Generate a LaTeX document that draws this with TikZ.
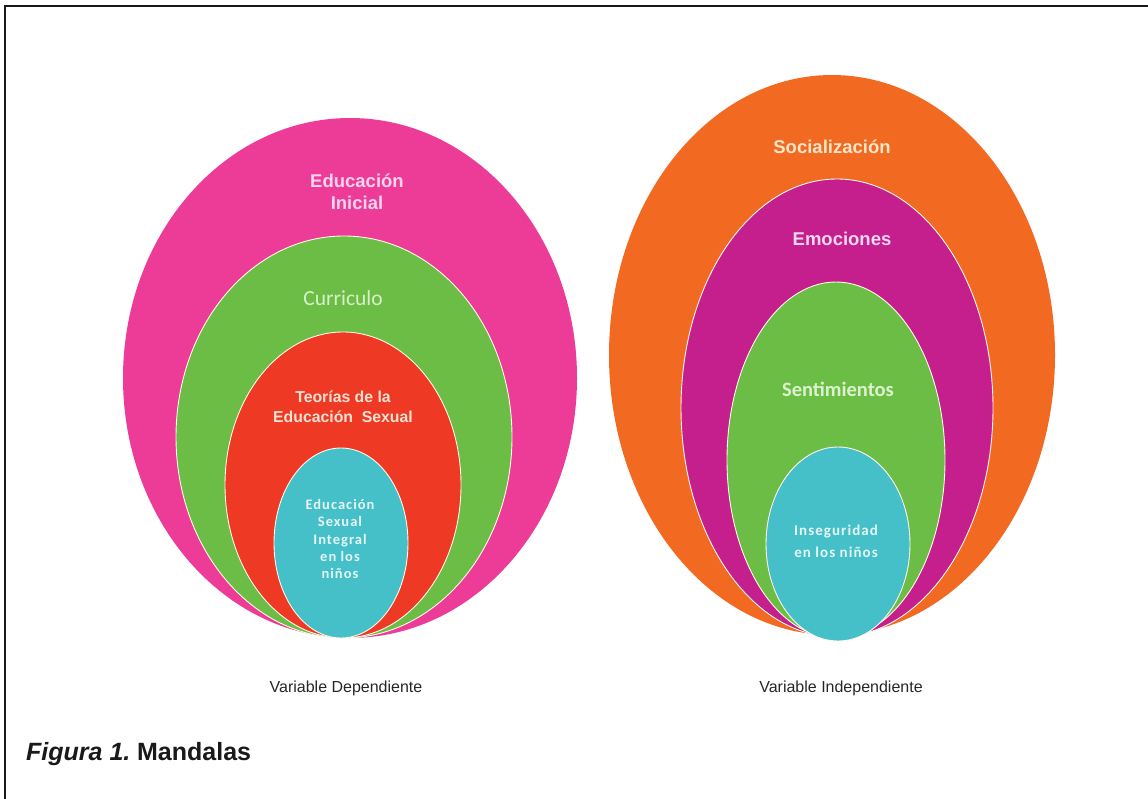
\documentclass[tikz,border=0pt]{standalone}
\usepackage{fontspec}
\setmainfont{Liberation Sans}
\newfontfamily\carlito{Carlito}
\newfontfamily\carlitows[LetterSpace=7]{Carlito}
\definecolor{cpink}{HTML}{EC3C98}
\definecolor{cgreen}{HTML}{6CBD45}
\definecolor{cred}{HTML}{EE3A25}
\definecolor{ccyan}{HTML}{45C0C9}
\definecolor{corange}{HTML}{F26A22}
\definecolor{cpurple}{HTML}{C41F8D}
\definecolor{tpink}{HTML}{FAD4EC}
\definecolor{tgreen}{HTML}{D8F0C8}
\definecolor{tred}{HTML}{F9E2D2}
\definecolor{tcyan}{HTML}{E6F6F6}
\definecolor{torange}{HTML}{FDE6C8}
\definecolor{tpurple}{HTML}{F4D8F0}
\definecolor{rim}{HTML}{FFF8E8}
\tikzset{
  rimmed/.style={draw=rim, line width=0.9pt},
  bigtxt/.style={font=\bfseries\fontsize{18.5}{21.5}\selectfont, align=center, inner sep=0pt},
  smalltxt/.style={font=\carlitows\bfseries\fontsize{14.5}{17.3}\selectfont, align=center, inner sep=0pt},
  vartxt/.style={font=\fontsize{16}{18}\selectfont, text=black!85, inner sep=0pt}
}
\begin{document}
\begin{tikzpicture}[x=1pt,y=-1pt]
\useasboundingbox (0,0) rectangle (1148,799);
% frame
\draw[line width=2.4pt, black!90] (5,799) -- (5,6) -- (1148,6);
% left mandala
\fill[cpink] (350,378) ellipse [x radius=227pt, y radius=260pt];
\filldraw[cgreen, rimmed] (344,437) ellipse [x radius=168pt, y radius=201pt];
\filldraw[cred, rimmed] (343,485) ellipse [x radius=118pt, y radius=153pt];
\filldraw[ccyan, rimmed] (341,543) ellipse [x radius=67pt, y radius=95pt];
% right mandala
\fill[corange] (832,355) ellipse [x radius=223pt, y radius=280pt];
\filldraw[cpurple, rimmed] (837,408) ellipse [x radius=156pt, y radius=229pt];
\filldraw[cgreen, rimmed] (836,460) ellipse [x radius=109pt, y radius=178pt];
\filldraw[ccyan, rimmed] (838,544) ellipse [x radius=72pt, y radius=97pt];
% left texts
\node[bigtxt, text=tpink] (ei) at (357,192) {Educación\\Inicial};
\node[font=\carlito\fontsize{21.5}{24}\selectfont, text=tgreen, inner sep=0pt] (cu) at (343,298) {Curriculo};
\node[bigtxt, text=tred, font=\bfseries\fontsize{15.8}{19.5}\selectfont] (te) at (343,407) {Teorías de la\\Educación\ \ Sexual};
\node[smalltxt, text=tcyan] (es) at (340,539) {Educación\\Sexual\\Integral\\en los\\niños};
% right texts
\node[bigtxt, text=torange] (so) at (832,147) {Socialización};
\node[bigtxt, text=tpurple] (em) at (842,239) {Emociones};
\node[font=\carlito\bfseries\fontsize{20.5}{23}\selectfont, text=tgreen!90!white, inner sep=0pt] (se) at (838,389) {Sentimientos};
\node[text=tcyan, align=center, inner sep=0pt, font=\carlitows\bfseries\fontsize{15}{22}\selectfont] (in) at (836,541) {Inseguridad\\en los niños};
% variable labels
\node[vartxt] (vd) at (346,688) {Variable Dependiente};
\node[vartxt] (vi) at (841,688) {Variable Independiente};
% caption
\node[anchor=west, inner sep=0pt, font=\bfseries\fontsize{25}{28}\selectfont, text=black!90] (cap) at (26,754) {\textit{Figura 1.}\hspace{-0.1em} Mandalas};
\end{tikzpicture}
\end{document}
